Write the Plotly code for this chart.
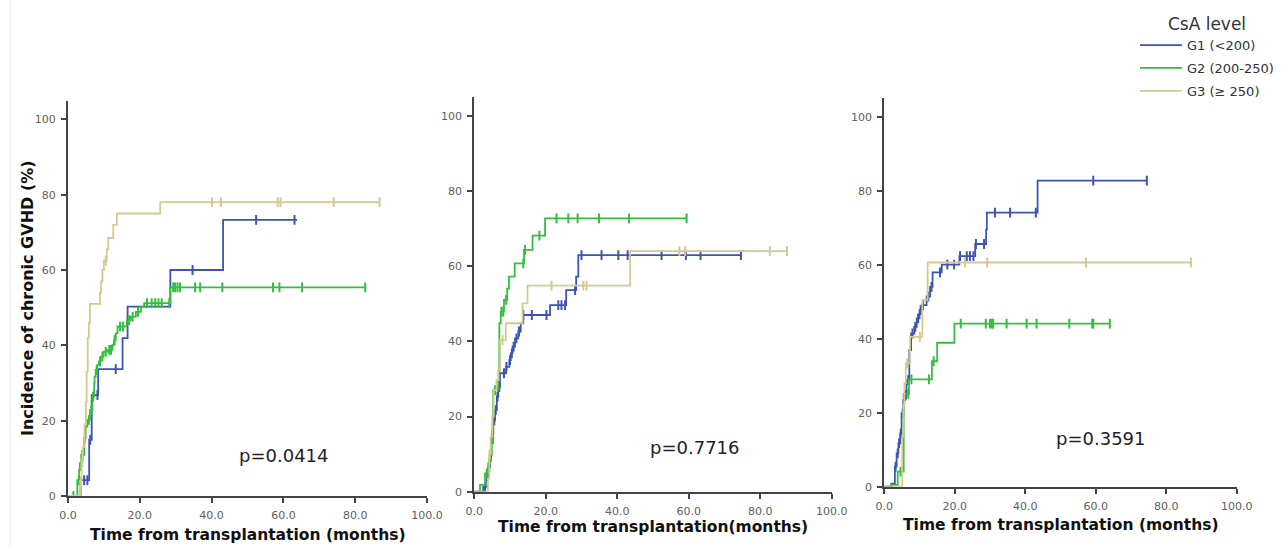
import plotly.graph_objects as go

W, H = 1283, 546

# ---- series definitions -------------------------------------------------
group_names = ["G1 (<200)", "G2 (200-250)", "G3 (\u2265 250)"]
group_colors = ["#3c55b4", "#34be3e", "#d4c98f"]

# Panel 1 (p=0.0414): step curves, time in months / cumulative incidence in %
p1_g1_t = [0, 3.5, 5.9, 6.6, 8.4, 15.2, 16.6, 28.5, 43.2, 63.8]
p1_g1_v = [0, 4.2, 14.9, 26.8, 33.7, 41.9, 50.3, 60.0, 73.3, 73.3]
p1_g1_cens = [4.5, 5.4, 6.2, 8.2, 13.3, 34.7, 52.4, 63.1]

p1_g2_t = [0, 2.6, 3.1, 3.3, 3.7, 4.5, 4.9, 5.4, 6.1, 6.8, 7.3, 7.4, 7.7, 8.2, 8.6,
           9.1, 9.9, 11.0, 12.4, 12.8, 13.3, 13.8, 16.4, 17.5, 18.9, 20.3, 21.2, 28.5, 82.8]
p1_g2_v = [0, 4.2, 6.9, 8.7, 10.9, 15.3, 18.4, 20.2, 22.8, 26.4, 29.9, 31.7, 33.5, 34.8, 35.7,
           37.0, 38.3, 38.8, 40.1, 41.4, 43.2, 45.0, 46.7, 47.6, 48.9, 50.3, 51.2, 55.4, 55.4]
p1_g2_cens = [1.5, 3.0, 4.0, 4.7, 5.8, 6.5, 7.0, 8.0, 8.9, 9.6, 10.5, 11.5, 12.0, 13.0,
              14.5, 15.3, 17.0, 18.0, 19.5, 22.0, 23.3, 24.3, 25.2, 26.1, 28.2, 29.3,
              29.8, 30.5, 31.2, 35.4, 36.8, 43.0, 57.1, 58.9, 65.2, 82.8]

p1_g3_t = [0, 3.2, 3.4, 3.8, 4.1, 4.6, 5.0, 5.2, 5.5, 5.8, 6.1, 8.9, 9.2, 9.6, 10.0,
           10.8, 11.2, 12.6, 13.6, 25.7, 86.8]
p1_g3_v = [0, 0, 4, 9, 13, 19, 25, 33, 42, 46, 51, 54, 57, 60, 62.5,
           65.5, 68.5, 72, 75, 78, 78]
p1_g3_cens = [3.6, 4.0, 10.5, 40.1, 42.6, 58.4, 59.2, 74.0, 86.8]

# Panel 2 (p=0.7716)
p2_g1_t = [0, 2.5, 3.6, 3.9, 4.4, 4.7, 4.9, 5.3, 5.8, 6.3, 6.7, 7.2, 8.9, 9.8, 10.2,
           10.7, 11.4, 12.3, 13.0, 13.7, 21.2, 25.7, 28.5, 29.1, 74.8]
p2_g1_v = [0, 1.3, 4.0, 6.6, 9.3, 12.9, 15.5, 19.0, 21.7, 25.3, 27.9, 31.5, 33.2, 35.0, 36.8,
           38.6, 40.8, 42.6, 44.8, 47.0, 49.6, 53.6, 57.2, 62.9, 62.9]
p2_g1_cens = [3.0, 3.6, 4.2, 4.6, 5.1, 5.6, 6.0, 6.5, 7.0, 8.3, 9.0, 10.0, 10.5, 11.0,
              11.8, 12.5, 13.7, 16.1, 20.2, 23.5, 24.4, 25.4, 28.2, 30.0, 35.6, 40.3,
              42.9, 52.4, 59.2, 63.3, 74.6]

p2_g2_t = [0, 1.6, 3.0, 3.9, 4.4, 4.9, 5.3, 6.7, 7.0, 7.4, 8.3, 9.2, 9.7, 11.3,
           13.9, 16.3, 19.8, 59.4]
p2_g2_v = [0, 1.8, 4.9, 7.5, 9.8, 12.9, 27.0, 29.7, 44.8, 47.9, 51.0, 54.0, 57.2, 60.7,
           64.3, 68.1, 72.7, 72.7]
p2_g2_cens = [3.5, 4.2, 5.8, 7.6, 8.1, 8.9, 13.7, 14.2, 18.2, 23.0, 26.3, 28.9, 34.9,
              43.3, 59.4]

p2_g3_t = [0, 3.5, 3.8, 4.2, 4.6, 5.0, 5.4, 6.2, 6.7, 7.2, 8.8, 13.5, 14.9, 43.6, 87.5]
p2_g3_v = [0, 0, 3.5, 10, 14.6, 20, 27, 29.7, 32.4, 40.3, 44.8, 50.1, 54.8, 64.0, 64.0]
p2_g3_cens = [4.3, 7.9, 21.6, 30.5, 31.4, 57.4, 59.0, 82.7, 87.5]

# Panel 3 (p=0.3591)
p3_g1_t = [0, 2.0, 3.0, 3.5, 4.0, 4.5, 4.9, 5.4, 5.9, 6.3, 7.1, 7.6, 8.5, 9.2, 10.0,
           10.6, 12.0, 13.0, 13.7, 16.3, 21.3, 25.8, 28.9, 29.1, 43.5, 74.6]
p3_g1_v = [0, 0.8, 5.4, 9.0, 11.7, 14.4, 19.8, 23.4, 24.8, 28.8, 36.9, 41.4, 43.2, 45.5, 47.7,
           49.1, 51.4, 54.0, 57.9, 60.0, 62.3, 65.6, 69.5, 74.1, 82.7, 82.7]
p3_g1_cens = [3.2, 3.8, 4.2, 4.7, 5.2, 5.6, 6.1, 6.8, 8.0, 8.8, 9.6, 10.3, 11.0, 12.5,
              13.4, 15.8, 17.9, 19.8, 21.5, 23.4, 24.3, 25.3, 26.0, 28.3, 31.4, 35.7,
              43.0, 59.3, 74.5]

p3_g2_t = [0, 2.0, 3.8, 5.5, 7.0, 13.5, 15.0, 19.9, 64.0]
p3_g2_v = [0, 0.5, 4.1, 25.1, 29.0, 33.9, 38.9, 44.1, 44.1]
p3_g2_cens = [4.6, 6.8, 7.7, 12.7, 14.0, 21.7, 28.8, 30.0, 30.5, 30.9, 34.7, 40.4,
              43.2, 52.5, 59.0, 59.3, 64.0]

p3_g3_t = [0, 4.9, 5.1, 5.4, 5.7, 6.1, 7.3, 10.8, 12.3, 87.3]
p3_g3_v = [0, 0, 13.5, 22, 28, 33.3, 40.5, 50.5, 60.6, 60.6]
p3_g3_cens = [6.5, 10.1, 22.9, 29.2, 57.2, 87.0]

p_values = ["p=0.0414", "p=0.7716", "p=0.3591"]
x_ticks = [0, 20, 40, 60, 80, 100]
y_ticks = [0, 20, 40, 60, 80, 100]
x_titles = ["Time from transplantation (months)",
            "Time from transplantation(months)",
            "Time from transplantation (months)"]
y_title = "Incidence of chronic GVHD (%)"
legend_title = "CsA level"

panels = [
    [(p1_g1_t, p1_g1_v, p1_g1_cens), (p1_g2_t, p1_g2_v, p1_g2_cens), (p1_g3_t, p1_g3_v, p1_g3_cens)],
    [(p2_g1_t, p2_g1_v, p2_g1_cens), (p2_g2_t, p2_g2_v, p2_g2_cens), (p2_g3_t, p2_g3_v, p2_g3_cens)],
    [(p3_g1_t, p3_g1_v, p3_g1_cens), (p3_g2_t, p3_g2_v, p3_g2_cens), (p3_g3_t, p3_g3_v, p3_g3_cens)],
]

# ---- layout geometry (pixels) --------------------------------------------
# (x of t=0, x of t=100, y of 0 %, y of top of axis)
frames = [(68, 427, 496, 100.5), (474.3, 831.7, 491.7, 96.9), (884.3, 1236.7, 486.7, 98.2)]
Y_MAX = 105
pval_pos = [(284, 455), (695, 447), (1101, 438)]
xtitle_y = [535, 527, 525]


def step_at(ts, vs, c):
    """Value of a right-continuous step curve at time c."""
    val = vs[0]
    for t, v in zip(ts, vs):
        if t <= c:
            val = v
        else:
            break
    return val


fig = go.Figure()
AXIS = "#444444"

for i, (panel, fr) in enumerate(zip(panels, frames)):
    n = "" if i == 0 else str(i + 1)
    xa, ya = "x" + n, "y" + n
    for gi, (ts, vs, cens) in enumerate(panel):
        col = group_colors[gi]
        fig.add_trace(go.Scatter(
            x=ts, y=vs, mode="lines", line=dict(color=col, width=1.8, shape="hv"),
            name=group_names[gi], legendgroup="g%d" % gi, showlegend=(i == 0),
            xaxis=xa, yaxis=ya, hoverinfo="skip"))
        fig.add_trace(go.Scatter(
            x=cens, y=[step_at(ts, vs, c) for c in cens], mode="markers",
            marker=dict(symbol="line-ns", size=7, line=dict(color=col, width=2)),
            legendgroup="g%d" % gi, showlegend=False,
            xaxis=xa, yaxis=ya, hoverinfo="skip"))

    x0, x1, y0, ytop = fr
    common = dict(showline=True, linecolor=AXIS, linewidth=2, ticks="outside",
                  ticklen=5, tickwidth=2, tickcolor=AXIS, showgrid=False, zeroline=False,
                  tickfont=dict(family="DejaVu Sans", size=11, color="#606060"))
    fig.layout["xaxis" + n] = dict(
        domain=[x0 / W, x1 / W], range=[0, 100], tickvals=x_ticks,
        ticktext=["%.1f" % v for v in x_ticks], anchor=ya, ticklabelstandoff=3, **common)
    fig.layout["yaxis" + n] = dict(
        domain=[(H - y0) / H, (H - ytop) / H], range=[0, Y_MAX], tickvals=y_ticks,
        ticktext=[str(v) for v in y_ticks], anchor=xa, ticklabelstandoff=3, **common)

    fig.add_annotation(text=x_titles[i], xref="paper", yref="paper",
                       x=(x0 + x1) / 2 / W, y=1 - xtitle_y[i] / H, showarrow=False,
                       xanchor="center", yanchor="middle",
                       font=dict(family="DejaVu Sans", size=15.5, color="#111111", weight="bold"))
    px, py = pval_pos[i]
    fig.add_annotation(text=p_values[i], xref="paper", yref="paper",
                       x=px / W, y=1 - py / H, showarrow=False,
                       xanchor="center", yanchor="middle",
                       font=dict(family="DejaVu Sans", size=18, color="#222222"))

fig.add_annotation(text=y_title, xref="paper", yref="paper", x=27 / W, y=1 - 298 / H,
                   textangle=-90, showarrow=False, xanchor="center", yanchor="middle",
                   font=dict(family="DejaVu Sans", size=16, color="#111111", weight="bold"))

# faint frame line at the left edge
fig.add_shape(type="line", xref="paper", yref="paper", x0=10 / W, x1=10 / W, y0=0, y1=1,
              line=dict(color="#e4e4e4", width=1))

fig.update_layout(
    width=W, height=H, margin=dict(l=0, r=0, t=0, b=0, autoexpand=False),
    paper_bgcolor="white", plot_bgcolor="white",
    legend=dict(x=1135 / W, y=1 - 8 / H, xanchor="left", yanchor="top",
                itemwidth=42,
                title=dict(text=legend_title, side="top center",
                           font=dict(family="DejaVu Sans", size=17, color="#333333")),
                font=dict(family="DejaVu Sans", size=13, color="#333333"),
                bgcolor="rgba(0,0,0,0)", traceorder="grouped", tracegroupgap=3),
)

fig.write_html("out.html")
